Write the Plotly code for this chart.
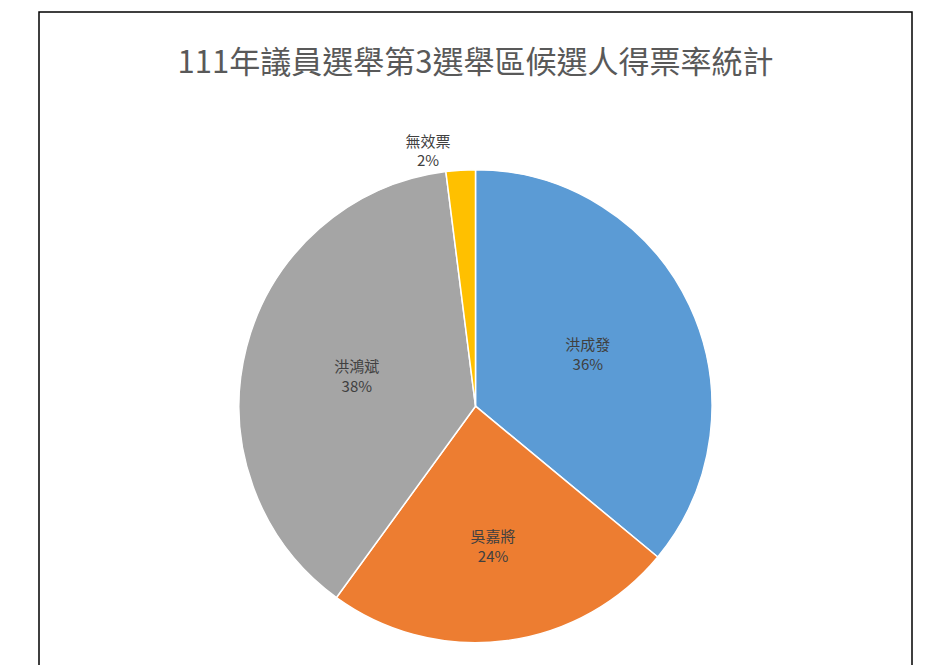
import plotly.graph_objects as go

labels = ["洪成發", "吳嘉將", "洪鴻斌", "無效票"]
values = [36, 24, 38, 2]
colors = ["#5B9BD5", "#ED7D31", "#A5A5A5", "#FFC000"]
positions = ["inside", "inside", "inside", "outside"]

fig = go.Figure(go.Pie(
    labels=labels, values=values, sort=False, direction="clockwise", rotation=0,
    marker=dict(colors=colors, line=dict(color="white", width=1.5)),
    texttemplate="%{label}<br>%{percent:.0%}", textposition=positions,
    textfont=dict(size=15, color="#404040"), insidetextorientation="horizontal",
    hole=0, showlegend=False, domain=dict(x=[0.1, 0.9], y=[0.04, 0.76]),
))
fig.update_layout(
    width=935, height=665, paper_bgcolor="white",
    margin=dict(l=4, r=4, t=4, b=4),
    title=dict(text="111年議員選舉第3選舉區候選人得票率統計", x=0.5, y=0.935, xanchor="center",
               font=dict(size=31, color="#595959", family="Noto Sans CJK TC")),
    font=dict(family="Noto Sans CJK TC"),
    shapes=[dict(type="rect", xref="paper", yref="paper", x0=0, y0=0, x1=1, y1=1,
                 line=dict(color="black", width=1.5))],
)
fig.write_html("out.html")
